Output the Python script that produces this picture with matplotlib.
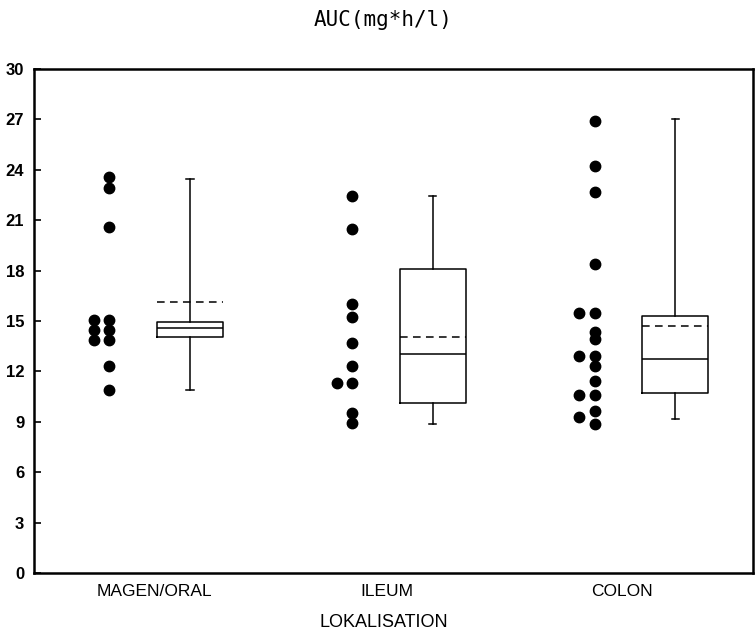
import matplotlib
matplotlib.use('Agg')
import matplotlib.pyplot as plt

################################################################
# data
categories = ['MAGEN/ORAL', 'ILEUM', 'COLON']

# individual values, main column and the few shifted to the left (ties)
dots_main = [
    [23.6, 22.9, 20.6, 15.05, 14.45, 13.85, 12.3, 10.9],
    [22.45, 20.5, 16.0, 15.25, 13.7, 12.3, 11.3, 9.55, 8.95],
    [26.9, 24.2, 22.7, 18.4, 15.45, 14.35, 13.95, 12.9, 12.3, 11.45, 10.6, 9.65, 8.9],
]
dots_left = [
    [15.05, 14.45, 13.85],
    [11.3],
    [15.45, 12.9, 10.6, 9.3],
]

# box statistics
box_whislo = [10.9, 8.9, 9.15]
box_q1 = [14.07, 10.14, 10.7]
box_med = [14.6, 13.04, 12.72]
box_q3 = [14.96, 18.1, 15.32]
box_whishi = [23.45, 22.45, 27.0]
box_mean = [16.15, 14.03, 14.72]

yticks = [0, 3, 6, 9, 12, 15, 18, 21, 24, 27, 30]
################################################################

fig = plt.figure(figsize=(7.56, 6.35), dpi=100)
ax = fig.add_axes([0.045, 0.0976, 0.951, 0.7937])

pos = [1, 2, 3]
label_pos = [1.02, 1.98, 2.95]
dot_off = -0.165
left_off = -0.062
box_off = 0.168

for i, p in enumerate(pos):
    ax.plot([p + dot_off] * len(dots_main[i]), dots_main[i], 'o',
            color='black', markersize=7.5, linestyle='none')
    ax.plot([p + dot_off + left_off] * len(dots_left[i]), dots_left[i], 'o',
            color='black', markersize=7.5, linestyle='none')

stats = []
for i in range(len(categories)):
    stats.append(dict(med=box_med[i], q1=box_q1[i], q3=box_q3[i],
                      whislo=box_whislo[i], whishi=box_whishi[i],
                      mean=box_mean[i], fliers=[]))

lp = dict(color='black', linewidth=1.1)
ax.bxp(stats, positions=[p + box_off for p in pos], widths=0.272,
       capwidths=0.03, showmeans=True, meanline=True, showfliers=False,
       boxprops=lp, whiskerprops=lp, capprops=lp, medianprops=lp,
       meanprops=dict(color='black', linewidth=1.1, linestyle=(0, (5, 3.5))),
       manage_ticks=False)

ax.set_xlim(0.525, 3.488)
ax.set_ylim(0, 30)
ax.set_xticks(label_pos)
ax.set_xticklabels(categories, fontsize=12.5, family=['Liberation Sans', 'DejaVu Sans'])
ax.tick_params(axis='x', length=0, pad=8)
ax.set_yticks(yticks)
ax.set_yticklabels([str(t) for t in yticks], fontsize=12, fontweight='bold',
                   family=['Liberation Sans Narrow', 'Liberation Sans', 'DejaVu Sans'])
ax.tick_params(axis='y', direction='in', length=5, width=1.2, pad=7)

for s in ax.spines.values():
    s.set_linewidth(1.8)

ax.set_xlabel('LOKALISATION', fontsize=13,
              family=['Liberation Sans', 'DejaVu Sans'])
ax.xaxis.set_label_coords(0.487, -0.082)
fig.text(0.507, 0.968, 'AUC(mg*h/l)', ha='center', va='center',
         fontsize=15, family='DejaVu Sans Mono')

fig.savefig('out.png', dpi=100)
